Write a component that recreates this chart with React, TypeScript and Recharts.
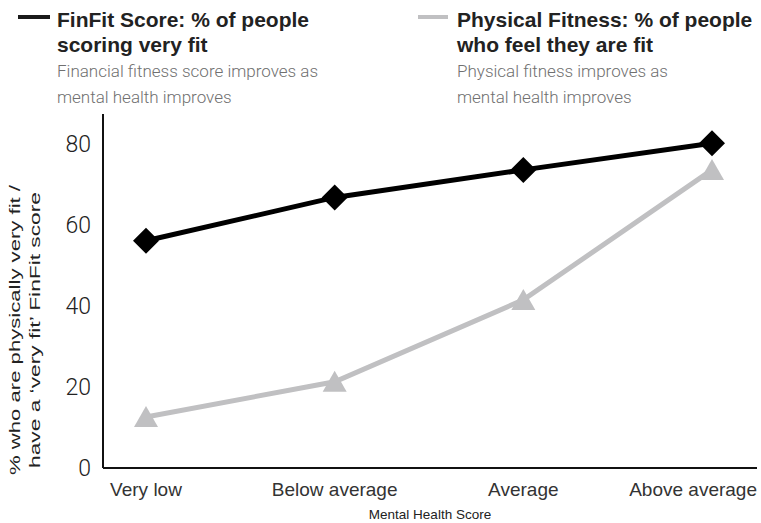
import React from 'react';
import { LineChart, Line, XAxis, YAxis, Label } from 'recharts';

const categories = ['Very low', 'Below average', 'Average', 'Above average'];
const finFitScores = [56.1, 66.8, 73.6, 80.2];
const physicalFitness = [12.6, 21.3, 41.5, 73.6];
const yTicks = [0, 20, 40, 60, 80];

const data = categories.map((name, i) => ({
  name,
  finfit: finFitScores[i],
  physical: physicalFitness[i],
}));

const BLACK = '#000000';
const GREY = '#c0c0c2';
const PAD_LEFT = 43;
const PAD_RIGHT = 45;

// square diamond marker (rotated square, not recharts' narrow diamond)
const DiamondDot = (props: any) => {
  const { cx, cy } = props;
  const r = 13;
  return (
    <polygon
      points={`${cx},${cy - r} ${cx + r},${cy} ${cx},${cy + r} ${cx - r},${cy}`}
      fill={BLACK}
    />
  );
};

const TriangleDot = (props: any) => {
  const { cx, cy } = props;
  return (
    <polygon
      points={`${cx},${cy - 11} ${cx + 12},${cy + 10} ${cx - 12},${cy + 10}`}
      fill={GREY}
    />
  );
};

// last category label is pulled in so it ends at the plot edge
const CategoryTick = (props: any) => {
  const { x, y, payload, index, visibleTicksCount } = props;
  const isLast = index === visibleTicksCount - 1;
  return (
    <text
      x={isLast ? x + PAD_RIGHT : x}
      y={y}
      dy="0.71em"
      textAnchor={isLast ? 'end' : 'middle'}
      fill="#333"
      fontSize={19}
      fontFamily='"Liberation Sans", Arial, sans-serif'
    >
      {payload.value}
    </text>
  );
};

const legendItems = [
  {
    color: '#1a1a1a',
    left: 18,
    lineWidth: 32,
    title: ['FinFit Score: % of people', 'scoring very fit'],
    note: ['Financial fitness score improves as', 'mental health improves'],
  },
  {
    color: GREY,
    left: 418,
    lineWidth: 30,
    title: ['Physical Fitness: % of people', 'who feel they are fit'],
    note: ['Physical fitness improves as', 'mental health improves'],
  },
];

const ChartLegend = () => (
  <>
    {legendItems.map((item) => (
      <div key={item.left} style={{ position: 'absolute', left: item.left, top: 7 }}>
        <div
          style={{
            position: 'absolute',
            left: 0,
            top: 8,
            width: item.lineWidth,
            height: 4,
            background: item.color,
          }}
        />
        <div
          style={{
            marginLeft: 39,
            fontFamily: '"Liberation Sans", Arial, sans-serif',
            fontWeight: 700,
            fontSize: 21,
            lineHeight: '25px',
            color: '#222',
            whiteSpace: 'nowrap',
          }}
        >
          {item.title.map((t) => (
            <div key={t}>{t}</div>
          ))}
        </div>
        <div
          style={{
            marginLeft: 39,
            marginTop: 1,
            fontFamily: 'Roboto, "Liberation Sans", sans-serif',
            fontWeight: 300,
            fontSize: 17,
            lineHeight: '26px',
            color: '#707070',
            whiteSpace: 'nowrap',
          }}
        >
          {item.note.map((t) => (
            <div key={t}>{t}</div>
          ))}
        </div>
      </div>
    ))}
  </>
);

// two-line rotated title, stretched lengthwise to run along the axis
const YAxisTitle = (props: any) => {
  const { viewBox } = props;
  const cy = viewBox.y + viewBox.height / 2 + 39;
  return (
    <text
      transform={`translate(0, ${cy}) rotate(-90)`}
      textAnchor="middle"
      fontFamily='"Liberation Sans", Arial, sans-serif'
      fontSize={14}
      fill="#222"
    >
      <tspan x={0} y={20} textLength={290} lengthAdjust="spacingAndGlyphs">
        % who are physically very fit /
      </tspan>
      <tspan x={0} y={40} textLength={276} lengthAdjust="spacingAndGlyphs">
        have a ‘very fit’ FinFit score
      </tspan>
    </text>
  );
};

export default function App() {
  return (
    <div style={{ position: 'absolute', left: 0, top: 0, width: 761, height: 523, background: '#fff' }}>
      <LineChart width={761} height={523} data={data} margin={{ top: 114, right: 4, bottom: 0, left: 0 }}>
        <XAxis
          dataKey="name"
          height={55}
          padding={{ left: PAD_LEFT, right: PAD_RIGHT }}
          axisLine={{ stroke: '#111', strokeWidth: 2 }}
          tickLine={false}
          tickMargin={9}
          tick={<CategoryTick />}
          interval={0}
        >
          <Label
            value="Mental Health Score"
            position="insideBottom"
            offset={4}
            style={{ fill: '#222', fontSize: 13.5, fontFamily: '"Liberation Sans Narrow", "Liberation Sans", sans-serif' }}
          />
        </XAxis>
        <YAxis
          width={103}
          domain={[0, 87.4]}
          ticks={yTicks}
          allowDataOverflow
          axisLine={{ stroke: '#111', strokeWidth: 2 }}
          tickLine={false}
          tickMargin={6}
          tick={{ fill: '#222', fontSize: 23, fontFamily: 'Roboto, "Liberation Sans", sans-serif', fontWeight: 300 }}
        >
          <Label content={<YAxisTitle />} />
        </YAxis>
        <Line
          dataKey="physical"
          stroke={GREY}
          strokeWidth={5}
          dot={<TriangleDot />}
          activeDot={false}
          isAnimationActive={false}
        />
        <Line
          dataKey="finfit"
          stroke={BLACK}
          strokeWidth={5}
          dot={<DiamondDot />}
          activeDot={false}
          isAnimationActive={false}
        />
      </LineChart>
      <ChartLegend />
    </div>
  );
}
